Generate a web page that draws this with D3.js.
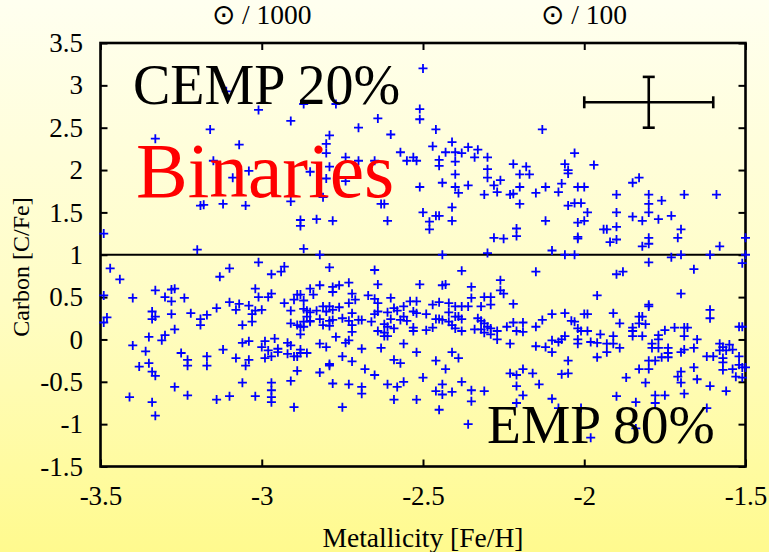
<!DOCTYPE html>
<html><head><meta charset="utf-8">
<script src="https://cdn.jsdelivr.net/npm/d3@7"></script>
<style>html,body{margin:0;padding:0;background:#fff;} svg{display:block;}</style>
</head><body>
<svg id="chart" width="769" height="552"></svg>
<script>
// ---- data ----
const xTicks = [-3.5, -3, -2.5, -2, -1.5];
const yTicks = [-1.5, -1, -0.5, 0, 0.5, 1, 1.5, 2, 2.5, 3, 3.5];
const topLabelValues = [-3, -2];
const topLabelTexts = ["\u2299 / 1000", "\u2299 / 100"];
const dividerCFe = 1;
const errorBar = {feh: -1.8, cfe: 2.8, xerr: 0.2, yerr: 0.3};
const labelTexts = ["CEMP 20%", "Binaries", "EMP 80%"];

const cempStars = [
[-3.11,2.93],[-2.87,2.78],[-3.01,2.71],[-2.91,2.58],[-3.16,2.48],[-3.33,2.37],[-3.07,2.30],[-3.15,2.11],[-3.04,1.99],[-3.09,1.91],[-2.85,1.98],[-3.19,1.58],[-3.18,1.59],[-3.12,1.60],[-3.05,1.58],[-2.91,1.63],[-2.88,1.41],[-2.88,1.34],[-3.49,1.25],[-3.20,1.06],[-2.87,1.07],
[-2.50,3.20],[-2.77,2.78],[-2.51,2.72],[-2.51,2.60],[-2.64,2.61],[-2.70,2.50],[-2.46,2.48],[-2.60,2.42],[-2.79,2.41],[-2.80,2.31],[-2.80,2.20],[-2.47,2.28],[-2.41,2.33],[-2.36,2.27],[-2.33,2.24],[-2.43,2.21],[-2.40,2.21],[-2.38,2.20],[-2.57,2.21],[-2.74,2.15],[-2.70,2.11],[-2.65,2.11],[-2.53,2.15],[-2.55,2.11],[-2.52,2.11],[-2.45,2.12],[-2.45,2.05],[-2.40,2.10],[-2.34,2.15],[-2.30,2.15],[-2.22,2.07],[-2.18,2.04],[-2.17,1.95],[-2.79,2.04],[-2.30,2.01],[-2.30,1.91],[-2.40,1.95],[-2.20,1.95],[-2.80,1.90],[-2.74,1.87],[-2.44,1.85],[-2.51,1.80],[-2.40,1.80],[-2.36,1.82],[-2.28,1.82],[-2.26,1.88],[-2.20,1.80],[-2.39,1.73],[-2.31,1.71],[-2.27,1.74],[-2.23,1.71],[-2.22,1.72],[-2.81,1.68],[-2.20,1.60],[-2.63,1.60],[-2.62,1.60],[-2.41,1.56],[-2.50,1.50],[-2.46,1.46],[-2.45,1.46],[-2.83,1.42],[-2.78,1.40],[-2.61,1.40],[-2.48,1.39],[-2.41,1.40],[-2.48,1.30],[-2.21,1.31],[-2.21,1.22],[-2.28,1.20],[-2.25,1.19],[-2.82,1.00],[-2.44,1.00],[-2.30,1.02],
[-2.13,2.48],[-2.03,2.20],[-2.06,2.07],[-2.05,2.00],[-2.05,1.96],[-1.97,2.06],[-2.12,1.80],[-2.07,1.84],[-2.02,1.80],[-2.00,1.80],[-2.15,1.73],[-2.08,1.74],[-1.85,1.85],[-1.83,1.91],[-1.90,1.71],[-1.80,1.71],[-1.80,1.60],[-1.76,1.64],[-1.69,1.71],[-1.59,1.71],[-2.05,1.58],[-2.03,1.61],[-2.01,1.61],[-1.99,1.50],[-1.90,1.50],[-1.80,1.50],[-2.12,1.40],[-2.02,1.38],[-2.00,1.40],[-1.85,1.45],[-1.82,1.40],[-1.77,1.42],[-1.73,1.46],[-1.94,1.30],[-1.93,1.30],[-1.90,1.33],[-1.70,1.30],[-2.02,1.21],[-2.02,1.19],[-1.92,1.15],[-1.90,1.18],[-1.80,1.20],[-1.80,1.13],[-1.82,1.10],[-1.71,1.20],[-1.58,1.10],[-1.50,1.20],[-2.10,1.05],[-2.06,1.00],[-2.03,1.00],[-1.70,1.00],[-1.73,0.97],[-1.61,1.00],[-1.50,1.00]
];

const empStars = [
[-3.01,0.91],[-3.47,0.84],[-3.44,0.71],[-3.10,0.84],[-3.13,0.74],[-2.97,0.77],[-2.94,0.80],[-2.93,0.86],[-3.49,0.52],[-3.40,0.49],[-3.33,0.58],[-3.30,0.50],[-3.28,0.59],[-3.27,0.60],[-3.28,0.45],[-3.24,0.49],[-3.10,0.44],[-3.07,0.42],[-3.02,0.60],[-3.01,0.50],[-2.98,0.50],[-2.97,0.54],[-2.93,0.43],[-2.90,0.47],[-2.89,0.53],[-2.88,0.53],[-2.87,0.46],[-2.85,0.60],[-2.84,0.53],
[-3.48,0.26],[-3.49,0.20],[-3.34,0.33],[-3.34,0.24],[-3.33,0.27],[-3.28,0.30],[-3.22,0.31],[-3.19,0.24],[-3.19,0.17],[-3.17,0.29],[-3.14,0.37],[-3.08,0.35],[-3.04,0.40],[-3.03,0.30],[-3.02,0.34],[-3.03,0.21],[-3.00,0.35],[-3.06,0.17],[-2.91,0.34],[-2.87,0.36],[-2.86,0.34],[-2.86,0.27],[-2.91,0.19],[-2.89,0.17],[-2.88,0.15],[-2.87,0.15],[-2.85,0.21],[-2.87,0.21],[-2.88,0.06],
[-3.35,0.03],[-3.30,0.05],[-3.31,-0.01],[-3.27,0.12],[-3.40,-0.07],[-3.36,-0.14],[-3.25,-0.16],[-3.23,-0.24],[-3.23,-0.31],[-3.17,-0.20],[-3.17,-0.31],[-3.12,-0.12],[-3.08,-0.22],[-3.06,-0.04],[-3.04,-0.02],[-3.00,-0.09],[-2.99,-0.02],[-2.98,-0.13],[-2.96,0.01],[-2.95,-0.11],[-2.95,-0.15],[-2.97,-0.20],[-2.99,-0.22],[-2.92,-0.04],[-2.91,-0.07],[-2.92,-0.17],[-2.90,-0.20],[-2.89,-0.20],[-2.88,-0.12],[-2.88,-0.16],[-2.86,-0.16],[-3.04,-0.24],[-3.05,-0.31],[-3.38,-0.32],[-3.35,-0.28],[-3.34,-0.38],[-3.33,-0.43],[-2.89,-0.37],
[-3.27,-0.56],[-3.06,-0.51],[-2.97,-0.51],[-2.97,-0.60],[-2.97,-0.68],[-2.97,-0.74],[-2.91,-0.49],[-3.41,-0.68],[-3.23,-0.66],[-3.10,-0.67],[-3.02,-0.67],[-3.14,-0.71],[-3.34,-0.74],[-2.90,-0.80],[-3.33,-0.90],
[-2.79,0.85],[-2.65,0.82],[-2.38,0.81],[-2.64,0.65],[-2.73,0.67],[-2.82,0.64],[-2.78,0.62],[-2.76,0.64],[-2.78,0.56],[-2.72,0.54],[-2.51,0.65],[-2.44,0.64],[-2.43,0.65],[-2.35,0.62],[-2.26,0.70],[-2.26,0.58],[-2.25,0.54],[-2.35,0.49],[-2.31,0.50],[-2.29,0.50],[-2.71,0.47],[-2.67,0.52],[-2.65,0.48],[-2.64,0.43],[-2.60,0.49],[-2.54,0.45],[-2.52,0.45],[-2.45,0.44],[-2.47,0.41],[-2.42,0.43],[-2.40,0.39],[-2.38,0.39],[-2.36,0.39],[-2.32,0.39],[-2.29,0.41],[-2.22,0.42],
[-2.83,0.34],[-2.81,0.39],[-2.79,0.39],[-2.78,0.35],[-2.80,0.33],[-2.76,0.38],[-2.73,0.43],[-2.75,0.25],[-2.72,0.31],[-2.85,0.32],[-2.85,0.22],[-2.82,0.24],[-2.81,0.17],[-2.79,0.22],[-2.78,0.23],[-2.79,0.16],[-2.73,0.22],[-2.72,0.17],[-2.72,0.09],[-2.70,0.23],[-2.69,0.23],[-2.66,0.21],[-2.65,0.30],[-2.64,0.33],[-2.61,0.32],[-2.59,0.37],[-2.58,0.34],[-2.60,0.24],[-2.57,0.23],[-2.56,0.39],[-2.56,0.27],[-2.55,0.22],[-2.53,0.33],[-2.52,0.31],[-2.49,0.30],
[-2.64,0.10],[-2.62,0.18],[-2.62,0.08],[-2.61,0.15],[-2.62,0.04],[-2.61,0.04],[-2.59,0.13],[-2.53,0.14],[-2.53,0.10],[-2.49,0.11],[-2.47,0.14],[-2.46,0.24],[-2.45,0.24],[-2.44,0.23],[-2.42,0.32],[-2.42,0.21],[-2.40,0.27],[-2.39,0.27],[-2.38,0.24],[-2.41,0.17],[-2.40,0.13],[-2.38,0.10],[-2.34,0.12],[-2.33,0.25],[-2.32,0.22],[-2.31,0.19],[-2.32,0.12],[-2.30,0.15],[-2.29,0.13],[-2.31,0.08],[-2.29,0.06],[-2.27,0.10],[-2.27,0.00],[-2.24,0.15],[-2.22,0.20],[-2.21,0.10],[-2.19,0.20],[-2.19,0.09],[-2.23,-0.05],
[-2.82,-0.05],[-2.80,-0.09],[-2.77,0.03],[-2.74,-0.04],[-2.73,-0.01],[-2.69,-0.11],[-2.63,-0.10],[-2.56,-0.05],[-2.52,-0.15],[-2.75,-0.20],[-2.72,-0.26],[-2.79,-0.29],[-2.79,-0.31],[-2.59,-0.24],[-2.57,-0.28],[-2.46,-0.25],[-2.41,-0.15],[-2.39,-0.22],[-2.82,-0.39],[-2.68,-0.35],[-2.65,-0.42],[-2.43,-0.35],[-2.50,-0.45],
[-2.78,-0.52],[-2.73,-0.53],[-2.69,-0.56],[-2.69,-0.64],[-2.61,-0.53],[-2.58,-0.56],[-2.56,-0.50],[-2.44,-0.53],[-2.46,-0.61],[-2.44,-0.65],[-2.41,-0.62],[-2.38,-0.50],[-2.35,-0.60],[-2.31,-0.61],[-2.35,-0.73],[-2.59,-0.71],[-2.52,-0.71],[-2.75,-0.80],[-2.45,-0.83],[-2.36,-1.00],[-2.19,-0.35],[-2.23,-0.40],[-2.21,-0.42],[-2.21,-0.55],[-2.19,-0.66],[-2.21,-0.75],
[-1.80,0.91],[-2.15,0.80],[-1.90,0.77],[-1.88,0.80],[-1.66,0.83],[-1.51,0.90],[-1.96,0.52],[-1.70,0.54],[-1.80,0.41],[-1.80,0.39],[-1.61,0.35],[-1.61,0.25],[-2.10,0.30],[-2.06,0.31],[-2.13,0.23],[-2.15,0.15],[-2.04,0.22],[-2.03,0.21],[-2.02,0.13],[-2.00,0.30],[-1.99,0.30],[-2.01,0.10],[-1.99,0.10],[-1.91,0.31],[-1.89,0.19],[-1.83,0.27],[-1.82,0.27],[-1.83,0.19],[-1.81,0.18],[-1.85,0.14],[-1.85,0.10],[-1.85,0.04],[-1.82,0.04],[-1.75,0.11],[-1.72,0.14],[-1.69,0.14],[-1.68,0.14],[-1.52,0.15],[-1.51,0.15],
[-2.06,0.04],[-2.07,0.00],[-2.08,-0.03],[-2.10,-0.01],[-2.10,-0.15],[-2.12,-0.09],[-2.15,-0.08],[-2.02,0.00],[-2.02,-0.05],[-1.98,-0.03],[-1.96,-0.04],[-1.95,0.06],[-1.93,-0.05],[-1.91,-0.05],[-1.91,0.04],[-1.89,-0.10],[-1.93,-0.15],[-1.96,-0.21],[-2.05,-0.25],[-1.77,0.05],[-1.77,0.00],[-1.79,-0.05],[-1.79,-0.10],[-1.77,-0.10],[-1.74,-0.10],[-1.74,-0.16],[-1.74,-0.21],[-1.76,-0.21],[-1.78,-0.25],[-1.80,-0.25],[-1.69,0.04],[-1.69,-0.12],[-1.70,-0.15],[-1.65,0.00],[-1.66,-0.10],
[-1.58,-0.05],[-1.57,-0.09],[-1.55,-0.06],[-1.54,-0.12],[-1.56,-0.13],[-1.58,-0.13],[-1.60,-0.20],[-1.62,-0.20],[-1.57,-0.22],[-1.57,-0.27],[-1.52,-0.20],[-1.52,-0.30],[-1.51,-0.33],[-1.54,-0.35],[-1.57,-0.36],[-1.53,-0.44],[-1.51,-0.45],[-1.50,-0.33],[-1.56,-0.61],[-1.61,-0.55],[-1.65,-0.47],[-1.66,-0.33],[-1.70,-0.38],[-1.71,-0.44],[-1.70,-0.51],[-1.69,-0.64],[-1.75,-0.66],[-1.78,-0.66],[-1.78,-0.75],[-1.81,-0.51],[-1.83,-0.35],[-1.80,-0.35],[-1.87,-0.45],[-1.90,-0.67],[-1.84,-0.74],[-1.62,-0.81],[-1.84,-1.05],[-1.98,-1.16],[-2.01,-0.81],[-2.08,-0.81],[-2.10,-0.70],[-2.07,-0.41],[-2.05,-0.40],[-2.14,-0.53],[-2.16,-0.40]
];

// ---- drawing ----
const W = 769, H = 552;
const svg = d3.select("#chart");
const FONT = "'Liberation Serif','Times New Roman',Times,serif";

const defs = svg.append("defs");
const grad = defs.append("linearGradient").attr("id", "bg").attr("x1", 0).attr("y1", 0).attr("x2", 0).attr("y2", 1);
grad.append("stop").attr("offset", "0%").attr("stop-color", "#fffff0");
grad.append("stop").attr("offset", "55%").attr("stop-color", "#fffdc4");
grad.append("stop").attr("offset", "100%").attr("stop-color", "#fffa8e");
svg.append("rect").attr("width", W).attr("height", H).attr("fill", "url(#bg)");

const x = d3.scaleLinear().domain([-3.5, -1.5]).range([100.5, 745.5]);
const y = d3.scaleLinear().domain([-1.5, 3.5]).range([466.5, 43]);

const fmt = d => String(d);

function styleAxis(g) {
  g.select(".domain").remove();
  g.selectAll(".tick line").attr("stroke", "#000").attr("stroke-width", 2);
  g.selectAll(".tick text").attr("font-family", FONT).attr("font-size", 27).attr("fill", "#000");
}

svg.append("g").attr("transform", `translate(0,${y(-1.5)})`)
  .call(d3.axisBottom(x).tickValues(xTicks).tickFormat(fmt).tickSizeInner(-7).tickSizeOuter(0).tickPadding(19.5))
  .call(styleAxis);
svg.append("g").attr("transform", `translate(0,${y(3.5)})`)
  .call(d3.axisTop(x).tickValues(xTicks).tickFormat("").tickSizeInner(-7).tickSizeOuter(0))
  .call(styleAxis);
svg.append("g").attr("transform", `translate(${x(-3.5)},0)`)
  .call(d3.axisLeft(y).tickValues(yTicks).tickFormat(fmt).tickSizeInner(-7).tickSizeOuter(0).tickPadding(17.5))
  .call(styleAxis);
svg.append("g").attr("transform", `translate(${x(-1.5)},0)`)
  .call(d3.axisRight(y).tickValues(yTicks).tickFormat("").tickSizeInner(-7).tickSizeOuter(0))
  .call(styleAxis);

// frame
svg.append("rect")
  .attr("x", x(-3.5)).attr("y", y(3.5))
  .attr("width", x(-1.5) - x(-3.5)).attr("height", y(-1.5) - y(3.5))
  .attr("fill", "none").attr("stroke", "#000").attr("stroke-width", 2.6);

// divider line
svg.append("line")
  .attr("x1", x(-3.5)).attr("x2", x(-1.5))
  .attr("y1", y(dividerCFe)).attr("y2", y(dividerCFe))
  .attr("stroke", "#000").attr("stroke-width", 2);

// top labels
svg.append("g").selectAll("text").data(topLabelValues).join("text")
  .attr("x", d => x(d)).attr("y", 24)
  .attr("text-anchor", "middle")
  .attr("font-family", FONT).attr("font-size", 27.5).attr("fill", "#000")
  .text((d, i) => topLabelTexts[i]);

// axis titles
svg.append("text").attr("x", x(-2.5)).attr("y", 547)
  .attr("text-anchor", "middle").attr("font-family", FONT).attr("font-size", 27.5)
  .text("Metallicity [Fe/H]");
svg.append("text").attr("transform", "translate(29,267) rotate(-90)")
  .attr("text-anchor", "middle").attr("font-family", FONT).attr("font-size", 24)
  .text("Carbon [C/Fe]");

// points
const plus = "M-4.5,0H4.5M0,-4.5V4.5";
const allStars = cempStars.concat(empStars);
svg.append("g").selectAll("path").data(allStars).join("path")
  .attr("transform", d => `translate(${x(d[0])},${y(d[1])})`)
  .attr("d", plus)
  .attr("stroke", "#0000ff").attr("stroke-width", 1.8).attr("fill", "none");

// error bar
const eb = svg.append("g").attr("stroke", "#000").attr("stroke-width", 2.6).attr("fill", "none");
const cap = 6;
eb.append("line").attr("x1", x(errorBar.feh - errorBar.xerr)).attr("x2", x(errorBar.feh + errorBar.xerr))
  .attr("y1", y(errorBar.cfe)).attr("y2", y(errorBar.cfe));
eb.append("line").attr("x1", x(errorBar.feh)).attr("x2", x(errorBar.feh))
  .attr("y1", y(errorBar.cfe - errorBar.yerr)).attr("y2", y(errorBar.cfe + errorBar.yerr));
[errorBar.feh - errorBar.xerr, errorBar.feh + errorBar.xerr].forEach(v => {
  eb.append("line").attr("x1", x(v)).attr("x2", x(v))
    .attr("y1", y(errorBar.cfe) - cap).attr("y2", y(errorBar.cfe) + cap);
});
[errorBar.cfe - errorBar.yerr, errorBar.cfe + errorBar.yerr].forEach(v => {
  eb.append("line").attr("x1", x(errorBar.feh) - cap).attr("x2", x(errorBar.feh) + cap)
    .attr("y1", y(v)).attr("y2", y(v));
});

// annotations
svg.append("text").attr("x", 133).attr("y", 104)
  .attr("font-family", FONT).attr("font-size", 56).attr("fill", "#000").text(labelTexts[0]);
svg.append("text").attr("x", 136).attr("y", 197)
  .attr("font-family", FONT).attr("font-size", 77.5).attr("fill", "#ff0000").text(labelTexts[1]);
svg.append("text").attr("x", 487).attr("y", 443)
  .attr("font-family", FONT).attr("font-size", 55.5).attr("fill", "#000").text(labelTexts[2]);
</script>
</body></html>
